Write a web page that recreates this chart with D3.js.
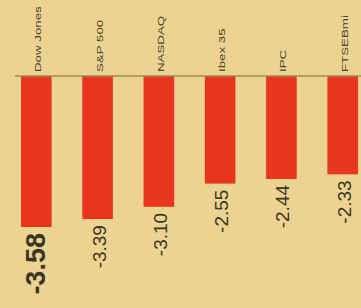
<!DOCTYPE html>
<html>
<head>
<meta charset="utf-8">
<script src="https://cdn.jsdelivr.net/npm/d3@7"></script>
<style>
  body { margin: 0; background: #EDD391; }
  svg { display: block; }
</style>
</head>
<body>
<svg></svg>
<script>
const width = 361, height = 308;

const indices = ["Dow Jones", "S&P 500", "NASDAQ", "Ibex 35", "IPC", "FTSEBmi"];
const changes = [-3.58, -3.39, -3.10, -2.55, -2.44, -2.33];
const valueLabels = ["-3.58", "-3.39", "-3.10", "-2.55", "-2.44", "-2.33"];

const data = indices.map((name, i) => ({ name, value: changes[i], label: valueLabels[i] }));

const svg = d3.select("svg")
    .attr("width", width)
    .attr("height", height);

svg.append("rect")
    .attr("width", width)
    .attr("height", height)
    .attr("fill", "#EDD391");

const baseY = 76;

const xScale = d3.scaleBand()
    .domain(indices)
    .range([21, 358])
    .paddingInner(0.5)
    .paddingOuter(0);

const yScale = d3.scaleLinear()
    .domain([0, -4])
    .range([baseY, baseY + 4 * 42.2]);

// bars
svg.selectAll(".bar")
    .data(data)
    .enter().append("rect")
    .attr("class", "bar")
    .attr("x", d => xScale(d.name))
    .attr("y", yScale(0))
    .attr("width", xScale.bandwidth())
    .attr("height", d => yScale(d.value) - yScale(0))
    .attr("fill", "#E8361F");

// baseline
svg.append("line")
    .attr("x1", 15)
    .attr("x2", width)
    .attr("y1", baseY)
    .attr("y2", baseY)
    .attr("stroke", "#9E8A4E")
    .attr("stroke-width", 1.5);

// index names above the line, reading upwards
svg.selectAll(".name")
    .data(data)
    .enter().append("text")
    .attr("class", "name")
    .attr("transform", d => `translate(${xScale(d.name) + xScale.bandwidth() / 2 + 5},${baseY - 4}) rotate(-90) scale(1.4,1)`)
    .attr("text-anchor", "start")
    .attr("font-family", "Liberation Sans, Arial, sans-serif")
    .attr("font-size", 9.5)
    .attr("fill", "#4A4330")
    .text(d => d.name);

// values below the bars
svg.selectAll(".value")
    .data(data)
    .enter().append("text")
    .attr("class", "value")
    .attr("transform", (d, i) => {
        const cx = xScale(d.name) + xScale.bandwidth() / 2 + (i === 0 ? 9 : 8);
        return `translate(${cx},${yScale(d.value) + 6}) rotate(-90)`;
    })
    .attr("text-anchor", "end")
    .attr("font-family", "Liberation Sans, Arial, sans-serif")
    .attr("font-size", (d, i) => i === 0 ? 27 : 19)
    .attr("font-weight", (d, i) => i === 0 ? "bold" : "normal")
    .attr("fill", "#3B3522")
    .text(d => d.label);
</script>
</body>
</html>
